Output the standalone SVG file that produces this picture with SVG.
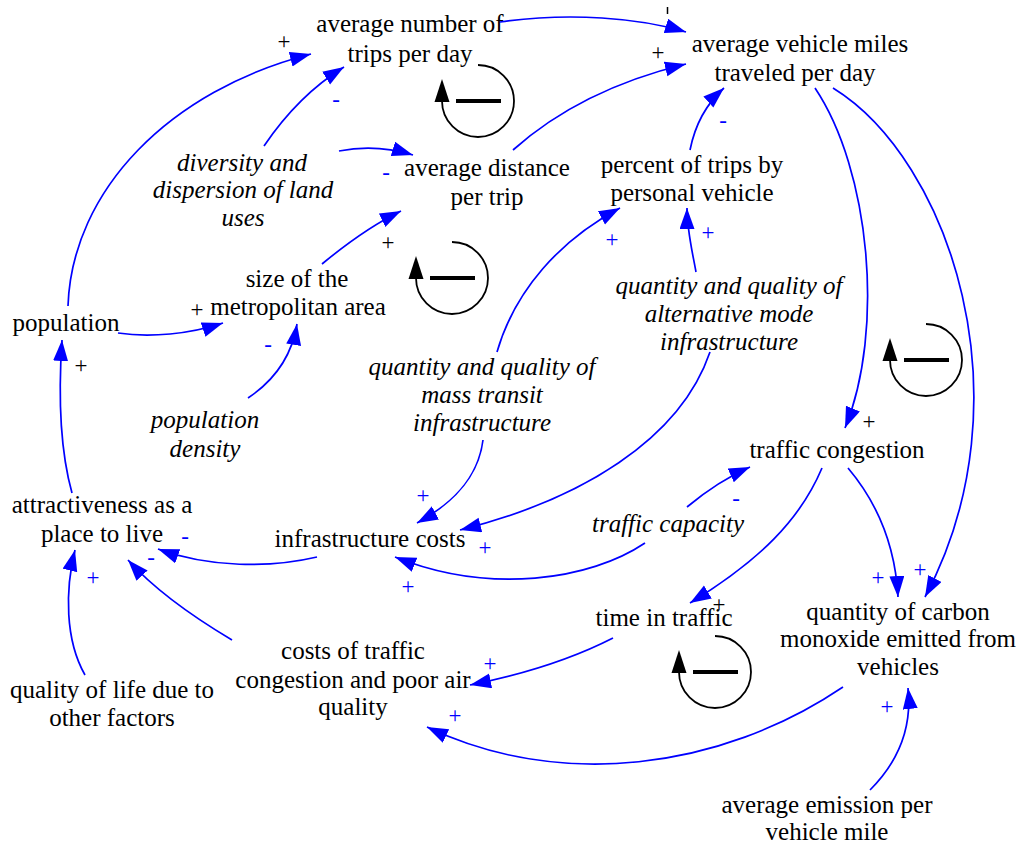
<svg xmlns="http://www.w3.org/2000/svg" width="1016" height="846" viewBox="0 0 1016 846">
<style>
.t{font-family:"Liberation Serif","Times New Roman",serif;font-size:25px;fill:#000;text-anchor:middle}
.i{font-style:italic}
.c{fill:none;stroke:#0000ff;stroke-width:1.7;marker-end:url(#ah)}
.pb{font-family:"Liberation Serif","Times New Roman",serif;font-size:23px;fill:#0000ff;text-anchor:middle}
.pk{font-family:"Liberation Serif","Times New Roman",serif;font-size:23px;fill:#000;text-anchor:middle}
.lp{fill:none;stroke:#000;stroke-width:1.8}
</style>
<defs>
<marker id="ah" markerUnits="userSpaceOnUse" markerWidth="22" markerHeight="16" refX="21" refY="7.5" orient="auto">
<path d="M0,0 L21,7.5 L0,15 z" fill="#0000ff"/>
</marker>
<g id="loop">
<path class="lp" d="M0,-36 A36,36 0 1 1 -36,0"/>
<path d="M-36,-22 L-43.5,1 L-28.5,1 z" fill="#000"/>
<line x1="-22" y1="0" x2="23" y2="0" stroke="#000" stroke-width="4"/>
</g>
</defs>
<rect width="1016" height="846" fill="#fff"/>

<g id="connectors">
<path class="c" d="M68,306 C72,190 170,90 311,54"/>
<path class="c" d="M264,146 C285,115 310,88 344,67"/>
<path class="c" d="M500,22 C570,12 640,18 686,32"/>
<path class="c" d="M513,150 C560,108 620,80 686,64"/>
<path class="c" d="M339,151 C365,146 390,148 413,155"/>
<path class="c" d="M322,264 C345,245 370,226 401,211"/>
<path class="c" d="M690,150 C695,125 705,105 724,88"/>
<path class="c" d="M497,352 C515,290 560,240 620,208"/>
<path class="c" d="M696,272 C692,250 687,230 687,208"/>
<path class="c" d="M118,333 C150,338 190,334 223,323"/>
<path class="c" d="M248,398 C275,380 292,355 297,324"/>
<path class="c" d="M72,493 C60,450 58,400 62,340"/>
<path class="c" d="M815,88 C870,170 885,330 845,428"/>
<path class="c" d="M833,88 C950,160 1030,400 925,597"/>
<path class="c" d="M848,468 C875,500 895,540 898,597"/>
<path class="c" d="M822,468 C800,520 760,560 690,603"/>
<path class="c" d="M687,507 C705,492 725,478 750,467"/>
<path class="c" d="M645,543 C590,580 490,595 395,557"/>
<path class="c" d="M483,440 C478,480 450,505 417,523"/>
<path class="c" d="M710,352 C680,440 580,500 460,530"/>
<path class="c" d="M317,557 C270,568 210,568 158,549"/>
<path class="c" d="M232,640 C190,615 155,590 128,560"/>
<path class="c" d="M85,675 C65,640 65,590 75,550"/>
<path class="c" d="M613,638 C570,660 520,675 470,685"/>
<path class="c" d="M843,687 C720,770 560,790 427,727"/>
<path class="c" d="M870,790 C900,760 912,725 908,688"/>
</g>

<g id="polarity">
<text class="pk" x="284" y="49">+</text>
<text class="pk" x="658" y="60">+</text>
<text class="pk" x="388" y="250">+</text>
<text class="pk" x="197" y="317">+</text>
<text class="pk" x="81" y="373">+</text>
<text class="pk" x="869" y="429">+</text>
<text class="pk" x="719" y="612">+</text>
<line x1="667.5" y1="7" x2="667.5" y2="14" stroke="#000" stroke-width="1.5"/>
<text class="pb" x="336" y="107">-</text>
<text class="pb" x="386" y="180">-</text>
<text class="pb" x="723" y="128">-</text>
<text class="pb" x="612" y="247">+</text>
<text class="pb" x="708" y="240">+</text>
<text class="pb" x="268" y="352">-</text>
<text class="pb" x="423" y="503">+</text>
<text class="pb" x="485" y="555">+</text>
<text class="pb" x="408" y="594">+</text>
<text class="pb" x="736" y="506">-</text>
<text class="pb" x="185" y="544">-</text>
<text class="pb" x="151" y="565">-</text>
<text class="pb" x="93" y="585">+</text>
<text class="pb" x="490" y="671">+</text>
<text class="pb" x="455" y="723">+</text>
<text class="pb" x="878" y="585">+</text>
<text class="pb" x="920" y="577">+</text>
<text class="pb" x="887" y="714">+</text>
</g>

<g id="loops">
<use href="#loop" x="478" y="101"/>
<use href="#loop" x="452" y="278"/>
<use href="#loop" x="926" y="360"/>
<use href="#loop" x="715" y="672"/>
</g>

<g id="n-trips"><text class="t" x="410" y="32">average number of</text><text class="t" x="410" y="62">trips per day</text></g>
<g id="n-vmt"><text class="t" x="800" y="52">average vehicle miles</text><text class="t" x="795" y="81">traveled per day</text></g>
<g id="n-diversity"><text class="t i" x="242" y="171">diversity and</text><text class="t i" x="243" y="198">dispersion of land</text><text class="t i" x="243" y="226">uses</text></g>
<g id="n-distance"><text class="t" x="487" y="176">average distance</text><text class="t" x="487" y="205">per trip</text></g>
<g id="n-percent"><text class="t" x="692" y="173">percent of trips by</text><text class="t" x="692" y="201">personal vehicle</text></g>
<g id="n-size"><text class="t" x="297" y="287">size of the</text><text class="t" x="298" y="315">metropolitan area</text></g>
<g id="n-population"><text class="t" x="66" y="331">population</text></g>
<g id="n-altmode"><text class="t i" x="729" y="294">quantity and quality of</text><text class="t i" x="729" y="322">alternative mode</text><text class="t i" x="729" y="350">infrastructure</text></g>
<g id="n-transit"><text class="t i" x="482" y="375">quantity and quality of</text><text class="t i" x="482" y="403">mass transit</text><text class="t i" x="482" y="431">infrastructure</text></g>
<g id="n-density"><text class="t i" x="205" y="428">population</text><text class="t i" x="205" y="457">density</text></g>
<g id="n-congestion"><text class="t" x="837" y="458">traffic congestion</text></g>
<g id="n-attract"><text class="t" x="102" y="513">attractiveness as a</text><text class="t" x="102" y="542">place to live</text></g>
<g id="n-infracosts"><text class="t" x="370" y="547">infrastructure costs</text></g>
<g id="n-capacity"><text class="t i" x="668" y="532">traffic capacity</text></g>
<g id="n-time"><text class="t" x="664" y="626">time in traffic</text></g>
<g id="n-co"><text class="t" x="898" y="620">quantity of carbon</text><text class="t" x="898" y="647">monoxide emitted from</text><text class="t" x="898" y="675">vehicles</text></g>
<g id="n-costs"><text class="t" x="353" y="659">costs of traffic</text><text class="t" x="353" y="688">congestion and poor air</text><text class="t" x="353" y="715">quality</text></g>
<g id="n-qol"><text class="t" x="112" y="698">quality of life due to</text><text class="t" x="112" y="726">other factors</text></g>
<g id="n-emission"><text class="t" x="827" y="813">average emission per</text><text class="t" x="827" y="840">vehicle mile</text></g>
</svg>
